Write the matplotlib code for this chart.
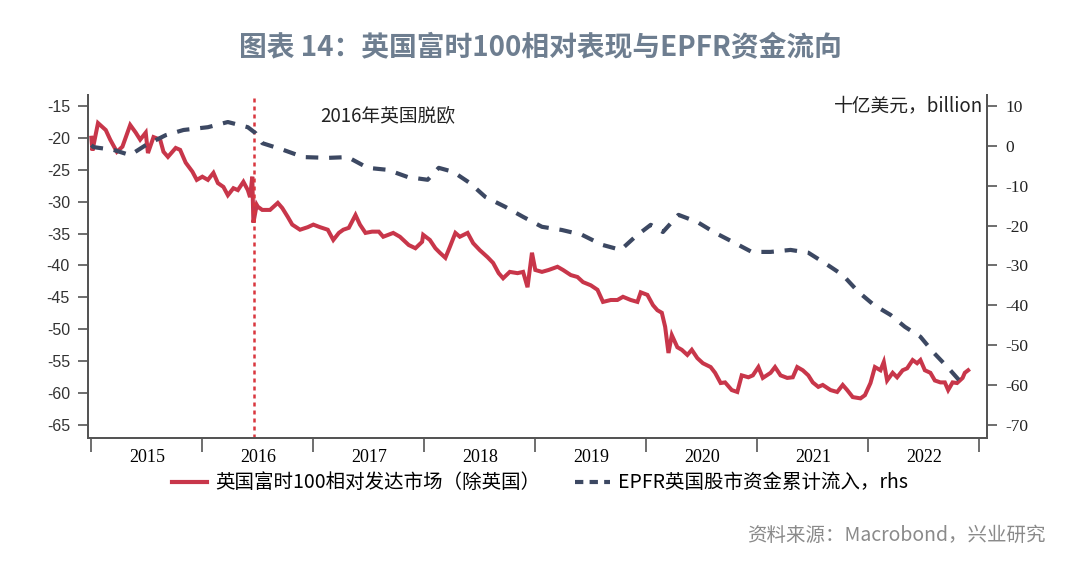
import matplotlib
matplotlib.use('Agg')
import matplotlib.pyplot as plt
from matplotlib.lines import Line2D

plt.rcParams['font.family'] = ['Noto Sans CJK SC', 'DejaVu Sans']
plt.rcParams['axes.unicode_minus'] = False

# FTSE100 relative to developed markets ex-UK (lhs), decimal years
ftse_t = [2015.00, 2015.01, 2015.06, 2015.13, 2015.17, 2015.23, 2015.28, 2015.35, 2015.40, 2015.44,
          2015.49, 2015.51, 2015.56, 2015.62, 2015.65, 2015.69, 2015.76, 2015.80, 2015.85, 2015.91,
          2015.95, 2016.00, 2016.05, 2016.10, 2016.14, 2016.19, 2016.23, 2016.28, 2016.32, 2016.37,
          2016.41, 2016.43, 2016.45, 2016.46, 2016.49, 2016.50, 2016.54, 2016.61, 2016.68, 2016.72,
          2016.77, 2016.81, 2016.88, 2016.95, 2017.00, 2017.06, 2017.13, 2017.18, 2017.23, 2017.27,
          2017.32, 2017.38, 2017.42, 2017.47, 2017.53, 2017.59, 2017.63, 2017.72, 2017.78, 2017.86,
          2017.92, 2017.98, 2017.99, 2018.05, 2018.10, 2018.14, 2018.19, 2018.23, 2018.28, 2018.32,
          2018.39, 2018.44, 2018.50, 2018.57, 2018.62, 2018.67, 2018.71, 2018.77, 2018.84, 2018.89,
          2018.93, 2018.97, 2019.00, 2019.06, 2019.12, 2019.20, 2019.25, 2019.32, 2019.38, 2019.43,
          2019.50, 2019.56, 2019.61, 2019.68, 2019.74, 2019.79, 2019.86, 2019.92, 2019.95, 2020.01,
          2020.06, 2020.10, 2020.14, 2020.17, 2020.20, 2020.23, 2020.28, 2020.32, 2020.37, 2020.41,
          2020.46, 2020.51, 2020.58, 2020.62, 2020.67, 2020.71, 2020.77, 2020.82, 2020.86, 2020.92,
          2020.96, 2021.01, 2021.05, 2021.12, 2021.16, 2021.21, 2021.27, 2021.32, 2021.36, 2021.41,
          2021.46, 2021.50, 2021.55, 2021.59, 2021.66, 2021.72, 2021.77, 2021.81, 2021.86, 2021.93,
          2021.97, 2022.02, 2022.06, 2022.11, 2022.14, 2022.17, 2022.22, 2022.26, 2022.31, 2022.35,
          2022.40, 2022.44, 2022.47, 2022.51, 2022.56, 2022.60, 2022.65, 2022.69, 2022.72, 2022.76,
          2022.80, 2022.85, 2022.87, 2022.90]
ftse_v = [-20.0, -22.0, -17.7, -18.8, -20.3, -22.2, -21.4, -18.0, -19.2, -20.3,
          -19.2, -22.4, -19.9, -20.3, -22.2, -23.0, -21.6, -21.9, -23.9, -25.3,
          -26.6, -26.1, -26.6, -25.5, -27.1, -27.7, -29.0, -27.9, -28.2, -26.9,
          -28.2, -29.3, -26.1, -33.3, -30.5, -30.8, -31.3, -31.3, -30.2, -31.0,
          -32.4, -33.6, -34.4, -34.0, -33.6, -34.0, -34.4, -36.0, -34.9, -34.4,
          -34.1, -32.1, -33.6, -34.9, -34.7, -34.7, -35.5, -34.9, -35.5, -36.8,
          -37.3, -36.3, -35.2, -36.0, -37.3, -38.0, -38.8, -37.1, -34.9, -35.5,
          -34.9, -36.5, -37.6, -38.7, -39.6, -41.2, -42.0, -41.0, -41.2, -41.0,
          -43.4, -38.0, -40.7, -41.0, -40.7, -40.2, -40.7, -41.5, -41.8, -42.6,
          -43.1, -43.8, -45.7, -45.4, -45.4, -44.9, -45.4, -45.7, -44.2, -44.6,
          -46.2, -47.0, -47.4, -49.6, -53.7, -50.9, -52.8, -53.2, -54.0, -53.2,
          -54.5, -55.3, -55.9, -56.8, -58.4, -58.3, -59.5, -59.8, -57.2, -57.5,
          -57.2, -55.9, -57.6, -56.8, -55.9, -57.2, -57.6, -57.5, -55.9, -56.4,
          -57.2, -58.3, -59.0, -58.7, -59.5, -59.8, -58.7, -59.5, -60.6, -60.8,
          -60.3, -58.4, -55.9, -56.4, -55.1, -58.0, -56.8, -57.5, -56.4, -56.1,
          -54.8, -55.3, -54.8, -56.4, -56.8, -58.0, -58.3, -58.3, -59.5, -58.3,
          -58.4, -57.6, -56.8, -56.4]

# EPFR UK equity cumulative flows, USD bn (rhs)
epfr_t = [2015.00, 2015.02, 2015.20, 2015.35, 2015.49, 2015.67, 2015.83, 2016.05, 2016.23, 2016.41,
          2016.48, 2016.54, 2016.73, 2016.91, 2017.13, 2017.31, 2017.49, 2017.67, 2017.85, 2018.03,
          2018.13, 2018.26, 2018.41, 2018.55, 2018.73, 2018.89, 2019.06, 2019.24, 2019.42, 2019.60,
          2019.77, 2019.90, 2020.04, 2020.15, 2020.29, 2020.46, 2020.62, 2020.78, 2020.95, 2021.12,
          2021.30, 2021.46, 2021.63, 2021.77, 2021.91, 2022.05, 2022.20, 2022.33, 2022.47, 2022.59,
          2022.72, 2022.87]
epfr_v = [0.2, -0.3, -1.0, -2.3, 0.2, 2.7, 4.0, 4.7, 6.0, 4.7,
          3.2, 0.7, -1.0, -2.8, -3.0, -2.8, -5.5, -6.0, -7.8, -8.5,
          -5.5, -6.5, -9.3, -12.8, -15.3, -17.8, -20.3, -21.1, -22.3, -24.8,
          -26.1, -22.8, -19.8, -21.6, -17.3, -19.1, -21.8, -24.1, -26.6, -26.6,
          -26.1, -26.8, -29.8, -32.4, -36.6, -39.9, -42.4, -45.4, -47.9, -51.9,
          -55.7, -60.4]

brexit = 2016.47
years = [2015, 2016, 2017, 2018, 2019, 2020, 2021, 2022]
left_ticks = [-15, -20, -25, -30, -35, -40, -45, -50, -55, -60, -65]
right_ticks = [10, 0, -10, -20, -30, -40, -50, -60, -70]

red = '#C8364A'
navy = '#3C4862'

fig = plt.figure(figsize=(10.8, 5.86), dpi=100)
ax = fig.add_axes([0.0815, 0.2526, 0.8324, 0.5854])
ax2 = ax.twinx()

ax.plot(ftse_t, ftse_v, color=red, lw=2.9, solid_joinstyle='miter')
ax.axvline(brexit, color='#D9363E', lw=1.8, linestyle=(0, (1.6, 1.6)))
ax2.plot(epfr_t, epfr_v, color=navy, lw=3.0, linestyle=(0, (3.0, 2.6)))

ax.set_xlim(2014.97, 2023.07)
ax.set_ylim(-67.0, -13.3)
ax2.set_ylim(-73.3, 12.8)

ax.set_xticks(years + [2023])
ax.set_xticklabels([])
ax.set_xticks([y + 0.5 for y in years], minor=True)
ax.set_xticklabels([str(y) for y in years], minor=True, family='Liberation Serif', fontsize=13)
ax.tick_params(axis='x', which='major', length=10, width=1.2, color='#555555', direction='out')
ax.tick_params(axis='x', which='minor', length=0, pad=8)

ax.set_yticks(left_ticks)
ax.set_yticklabels([str(v) for v in left_ticks], family='Liberation Sans', fontsize=11.5, color='#333333')
ax.tick_params(axis='y', length=7, width=1.2, color='#555555', pad=6)

ax2.set_yticks(right_ticks)
ax2.set_yticklabels([str(v) for v in right_ticks], family='Liberation Serif', fontsize=12.5, color='#222222')
ax2.tick_params(axis='y', length=7, width=1.2, color='#555555', pad=6)

for a in (ax, ax2):
    a.spines['top'].set_visible(False)
    for s in ('left', 'right', 'bottom'):
        a.spines[s].set_color('#555555')
        a.spines[s].set_linewidth(1.4)

ax.text(2017.06, -16.5, '2016年英国脱欧', fontsize=13.5, color='#222222', va='center', ha='left')
ax2.text(2023.04, 10.2, '十亿美元，billion', fontsize=13.5, color='#222222', va='center', ha='right')

handles = [Line2D([], [], color=red, lw=3),
           Line2D([], [], color=navy, lw=3, linestyle=(0, (2, 1.5)))]
fig.legend(handles, ['英国富时100相对发达市场（除英国）', 'EPFR英国股市资金累计流入，rhs'],
           loc='center', bbox_to_anchor=(0.50, 0.176), ncol=2, frameon=False,
           fontsize=14, handlelength=1.8, handletextpad=0.4, columnspacing=1.8)

fig.text(0.5, 0.918, '图表 14：英国富时100相对表现与EPFR资金流向', ha='center', va='center',
         fontsize=20, fontweight='bold', color='#6E7E90')
fig.text(0.968, 0.087, '资料来源：Macrobond，兴业研究', ha='right', va='center',
         fontsize=14, color='#8A8A8A')

fig.savefig('out.png', dpi=100, facecolor='white')
